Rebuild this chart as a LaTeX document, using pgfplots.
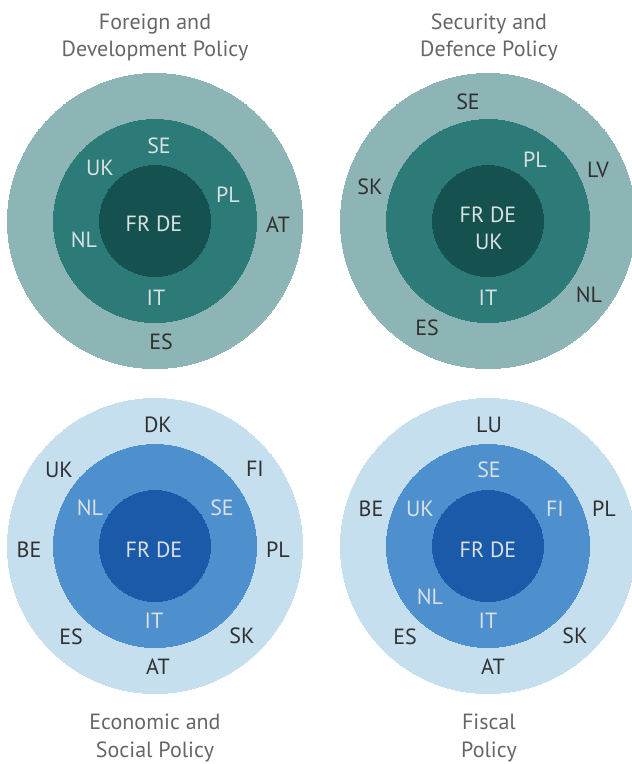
\documentclass[border=0pt]{standalone}
\usepackage{fontspec}
\setmainfont{PT Sans}
\usepackage{pgfplots}
\pgfplotsset{compat=1.18}

\definecolor{tealOut}{HTML}{8EB5B5}
\definecolor{tealMid}{HTML}{2C7B78}
\definecolor{tealIn}{HTML}{15524F}
\definecolor{blueOut}{HTML}{C5DFEE}
\definecolor{blueMid}{HTML}{4E90CE}
\definecolor{blueIn}{HTML}{1B5AA8}
\definecolor{lblLight}{HTML}{DAE1E2}
\definecolor{lblDark}{HTML}{303030}
\definecolor{ttlGray}{HTML}{666666}

\newcommand\lbl{\fontsize{22}{26}\selectfont}

% ring centres (pixel grid of the original, y downwards)
\pgfplotstableread[col sep=comma]{
x,y
155,221
488,221
}\teal
\pgfplotstableread[col sep=comma]{
x,y
155,546
488,546
}\blue

\begin{document}
\begin{tikzpicture}
\begin{axis}[
    name=ax,
    width=632pt, height=764pt,
    scale only axis,
    xmin=0, xmax=632,
    ymin=0, ymax=764,
    y dir=reverse,
    hide axis,
    clip=false,
    every node near coord/.append style={anchor=base, inner sep=0pt, font=\lbl},
    ring/.style={only marks, mark=*, color=#1, mark options={draw=#1, fill=#1, line width=0pt}},
]
% rings: mark size in pt = radius in axis units
\addplot[ring=tealOut, mark size=147.5] table {\teal};
\addplot[ring=tealMid, mark size=101.5] table {\teal};
\addplot[ring=tealIn, mark size=55.5] table {\teal};
\addplot[ring=blueOut, mark size=147.5] table {\blue};
\addplot[ring=blueMid, mark size=101.5] table {\blue};
\addplot[ring=blueIn, mark size=55.5] table {\blue};

% country codes in the two inner circles
\addplot[only marks, mark=none, nodes near coords, point meta=explicit symbolic,
    every node near coord/.append style={text=lblLight}]
    table[col sep=comma, meta=lab] {
x,y,lab
159,153.5,SE
100,175.5,UK
228,202.5,PL
154,231.5,FR DE
84,247.5,NL
156,305.5,IT
535,167.5,PL
488,222.5,FR DE
489,249.5,UK
488,305.5,IT
90,515.5,NL
222,515.5,SE
154,557.5,FR DE
154,628.5,IT
489,477.5,SE
420,516.5,UK
555,516.5,FI
488,557.5,FR DE
430,604.5,NL
488,628.5,IT
};

% country codes in the outer ring
\addplot[only marks, mark=none, nodes near coords, point meta=explicit symbolic,
    every node near coord/.append style={text=lblDark}]
    table[col sep=comma, meta=lab] {
x,y,lab
278,232.5,AT
161,349.5,ES
468,109.5,SE
598,177.5,LV
370,194.5,SK
589,302.5,NL
427,335.5,ES
158,432.5,DK
59,477.5,UK
255,476.5,FI
29,557.5,BE
278,557.5,PL
71,644.5,ES
242,643.5,SK
158,674.5,AT
489,432.5,LU
371,516.5,BE
604,516.5,PL
405,644.5,ES
575,643.5,SK
493,674.5,AT
};

% titles
\addplot[only marks, mark=none, nodes near coords, point meta=explicit symbolic,
    every node near coord/.append style={text=ttlGray}]
    table[col sep=comma, meta=lab] {
x,y,lab
155,29,Foreign and
155,56,Development Policy
489,29,Security and
489,56,Defence Policy
155,729,Economic and
155,757,Social Policy
489,729,Fiscal
489,757,Policy
};
\end{axis}
\pgfresetboundingbox
\path[use as bounding box] (ax.south west) rectangle (ax.north east);
\end{tikzpicture}
\end{document}
